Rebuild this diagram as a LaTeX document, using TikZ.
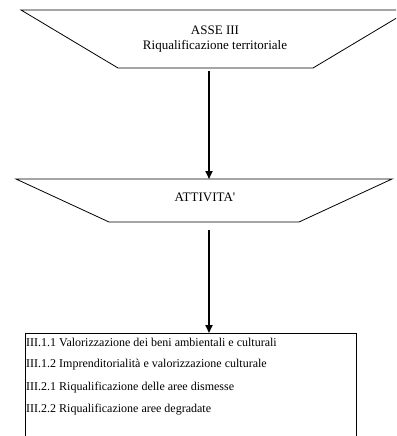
\documentclass[tikz,border=0pt]{standalone}
\usepackage{fontspec}
\setmainfont{Liberation Serif}
\newfontfamily\rawserif{Liberation Serif}[Ligatures=TeXOff]
\usetikzlibrary{arrows.meta}
\begin{document}
\begin{tikzpicture}[x=1pt,y=-1pt,
  shapeline/.style={draw=black,line width=0.8pt},
  flow/.style={line width=1.8pt,-{Triangle[length=8pt,width=7pt]}},
  title/.style={font=\fontsize{13}{15}\selectfont,align=center,inner sep=0pt},
  item/.style={font=\fontsize{12}{14}\selectfont,anchor=west,inner sep=1pt}]
\useasboundingbox (0,0) rectangle (396,436);
\clip (0,0) rectangle (396,436);
% top trapezoid
\draw[shapeline] (21,10) -- (410,10) -- (313,68) -- (118,68) -- cycle;
\node[title] (asse) at (215,39) {ASSE III\\Riqualificazione territoriale};
% second trapezoid
\draw[shapeline] (16,179) -- (392,179) -- (299,222) -- (109,222) -- cycle;
\node[title] (att) at (205,197) {{\rawserif ATTIVITA'}};
% box
\draw[shapeline] (25,440) -- (25,333) -- (356,333) -- (356,440);
\node[item] (l1) at (25,342) {III.1.1 Valorizzazione dei beni ambientali e culturali};
\node[item] (l2) at (25,365) {III.1.2 Imprenditorialità e valorizzazione culturale};
\node[item] (l3) at (25,388) {III.2.1 Riqualificazione delle aree dismesse};
\node[item] (l4) at (25,410) {III.2.2 Riqualificazione aree degradate};
% connectors
\coordinate (a1s) at (209,71);
\coordinate (a1e) at (209,179);
\coordinate (a2s) at (209,230);
\coordinate (a2e) at (209,333);
\draw[flow] (a1s) -- (a1e);
\draw[flow] (a2s) -- (a2e);
\end{tikzpicture}
\end{document}
